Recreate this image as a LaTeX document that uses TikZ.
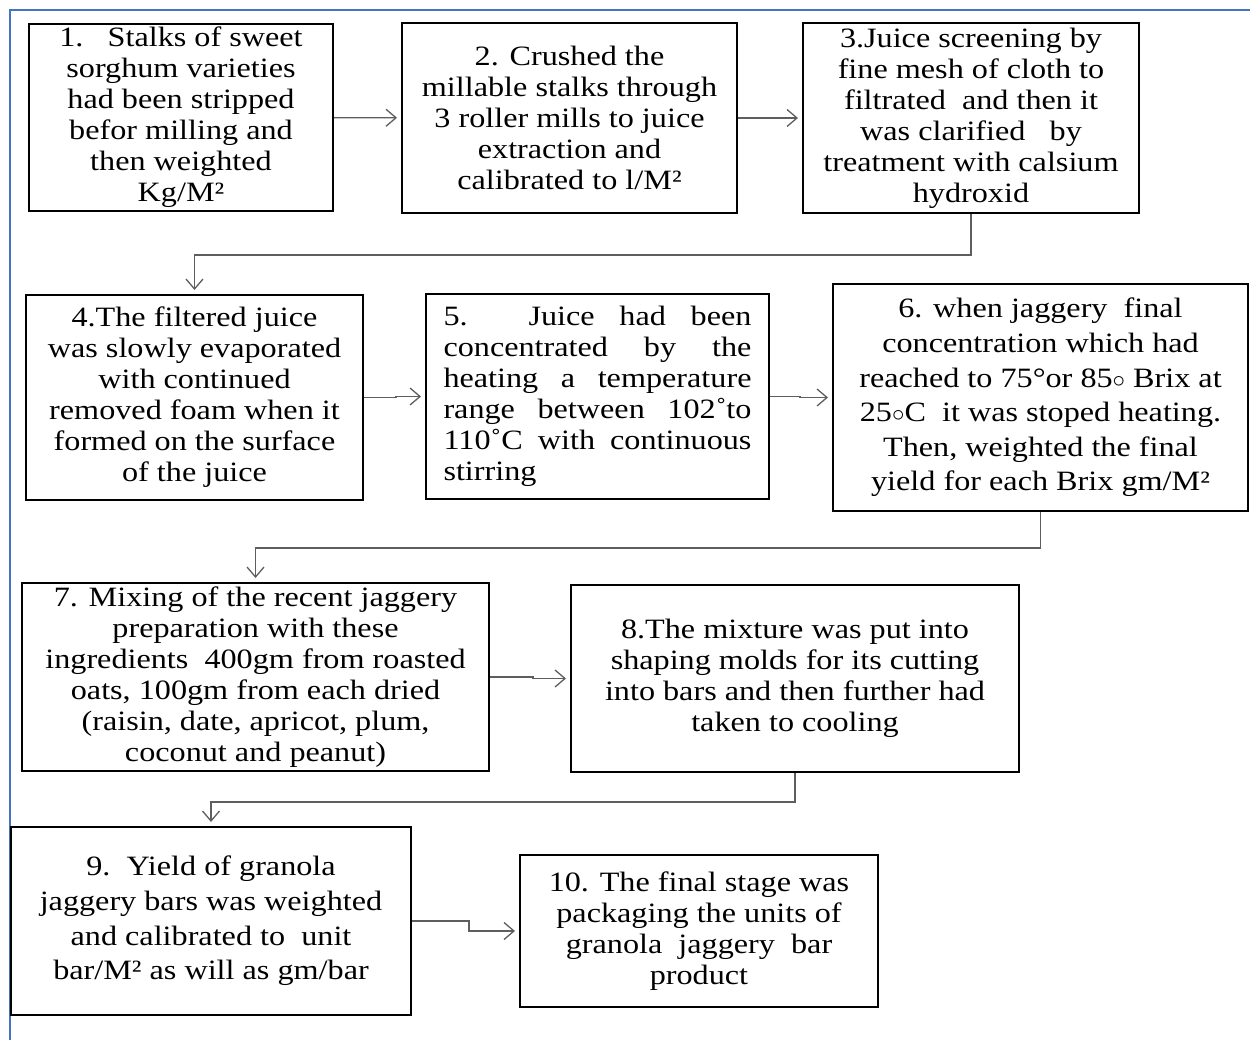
\documentclass[tikz,border=0pt]{standalone}
\usepackage{fontspec}
\setmainfont{Liberation Serif}[FakeStretch=1.15]
\usetikzlibrary{arrows.meta}
\definecolor{frameblue}{HTML}{4472C4}
\definecolor{linegray}{HTML}{5E5E5E}
\begin{document}
\begin{tikzpicture}[x=1pt,y=-1pt,
  box/.style={draw=black,line width=2pt,inner sep=0pt,align=center,
    font=\fontsize{28}{31}\selectfont},
  widebox/.style={box,font=\fontsize{28}{34.6}\selectfont},
  conn/.style={draw=linegray,line width=1.3pt,
    -{Straight Barb[length=10pt,width=17pt,line width=1.3pt]},shorten >=4pt}]
\useasboundingbox (0,0) rectangle (1250,1040);
\draw[frameblue,line width=2.2pt] (10,1045) -- (10,10) -- (1255,10);

\node[box,minimum width=304pt,minimum height=187pt] (b1) at (181,117.5)
 {1.\ \ \ Stalks of sweet\\sorghum varieties\\had been stripped\\befor milling and\\then weighted\\Kg/M²};
\node[box,minimum width=335pt,minimum height=190pt] (b2) at (569.5,118)
 {2. Crushed the\\millable stalks through\\3 roller mills to juice\\extraction and\\calibrated to l/M²};
\node[box,minimum width=336pt,minimum height=190pt] (b3) at (971,118)
 {3.Juice screening by\\fine mesh of cloth to\\filtrated\ \ and then it\\was clarified\ \ \ by\\treatment with calsium\\hydroxid};
\node[box,minimum width=337pt,minimum height=205pt] (b4) at (194.5,397.5)
 {4.The filtered juice\\was slowly evaporated\\with continued\\removed foam when it\\formed on the surface\\of the juice};
\node[box,minimum width=343pt,minimum height=205pt,align=left] (b5) at (597.5,396.5)
 {\makebox[308pt][s]{5. Juice had been}\\\makebox[308pt][s]{concentrated by the}\\\makebox[308pt][s]{heating a temperature}\\\makebox[308pt][s]{range between 102˚to}\\\makebox[308pt][s]{110˚C with continuous}\\\makebox[308pt][l]{stirring}};
\node[widebox,minimum width=415pt,minimum height=227pt] (b6) at (1040.5,397.5)
 {6. when jaggery\ \ final\\concentration which had\\reached to 75°or 85$\circ$ Brix at\\25$\circ$C\ \ it was stoped heating.\\Then, weighted the final\\yield for each Brix gm/M²};
\node[box,minimum width=467pt,minimum height=188pt] (b7) at (255.5,677)
 {7. Mixing of the recent jaggery\\preparation with these\\ingredients\ \ 400gm from roasted\\oats, 100gm from each dried\\(raisin, date, apricot, plum,\\coconut and peanut)};
\node[box,minimum width=448pt,minimum height=187pt] (b8) at (795,678.5)
 {8.The mixture was put into\\shaping molds for its cutting\\into bars and then further had\\taken to cooling};
\node[widebox,minimum width=400pt,minimum height=188pt] (b9) at (211,921)
 {9.\ \ Yield of granola\\jaggery bars was weighted\\and calibrated to\ \ unit\\bar/M² as will as gm/bar};
\node[box,minimum width=358pt,minimum height=152pt] (b10) at (699,931)
 {10. The final stage was\\packaging the units of\\granola\ \ jaggery\ \ bar\\product};

\draw[conn] (b1) -- (b2);
\draw[conn] (b2) -- (b3);
\draw[conn] (b3.south) -- ++(0,41) -| (b4.north);
\draw[conn] (b4.east) -- ++(32,0) |- (b5.west);
\draw[conn] (b5.east) -- ++(30,0) |- (b6.west);
\draw[conn] (b6.south) -- ++(0,36) -| (b7.north);
\draw[conn] (b7.east) -- ++(43,0) |- (b8.west);
\draw[conn] (b8.south) -- ++(0,29) -| (b9.north);
\draw[conn] (b9.east) -- ++(57,0) |- (b10.west);
\end{tikzpicture}
\end{document}
